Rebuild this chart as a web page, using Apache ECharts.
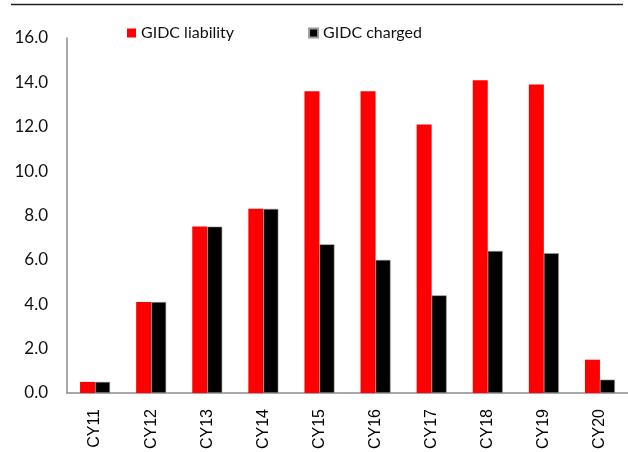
<!DOCTYPE html>
<html>
<head>
<meta charset="utf-8">
<script src="https://cdn.jsdelivr.net/npm/echarts@6/dist/echarts.min.js"></script>
<style>
  html, body { margin: 0; padding: 0; background: #fff; }
  #chart { width: 628px; height: 452px; }
</style>
</head>
<body>
<div id="chart"></div>
<script>
// GIDC liability vs. GIDC charged, by calendar year
const years = ['CY11', 'CY12', 'CY13', 'CY14', 'CY15', 'CY16', 'CY17', 'CY18', 'CY19', 'CY20'];
const gidcLiability = [0.5, 4.1, 7.5, 8.3, 13.6, 13.6, 12.1, 14.1, 13.9, 1.5];
const gidcCharged   = [0.5, 4.1, 7.5, 8.3, 6.7, 6.0, 4.4, 6.4, 6.3, 0.6];
const yTicks = [0, 2, 4, 6, 8, 10, 12, 14, 16];

const chart = echarts.init(document.getElementById('chart'), null, { renderer: 'canvas' });

chart.setOption({
  animation: false,
  backgroundColor: '#ffffff',
  graphic: [{
    type: 'line',
    shape: { x1: 11, y1: 4.5, x2: 623, y2: 4.5 },
    style: { stroke: '#222', lineWidth: 1.5 }
  }],
  legend: {
    left: 122,
    top: 20,
    itemWidth: 9,
    itemHeight: 9,
    itemGap: 74,
    icon: 'rect',
    textStyle: { fontFamily: 'Lato', fontSize: 16, color: '#111' },
    data: ['GIDC liability', 'GIDC charged']
  },
  grid: { left: 67, right: -7, top: 38, bottom: 56, containLabel: false },
  xAxis: {
    type: 'category',
    data: years,
    axisLine: { show: true, lineStyle: { color: '#8c8c8c', width: 1.5 } },
    axisTick: { show: false },
    axisLabel: {
      rotate: 90,
      margin: 16,
      fontFamily: 'Liberation Sans',
      fontSize: 16,
      color: '#000'
    }
  },
  yAxis: {
    type: 'value',
    min: yTicks[0],
    max: yTicks[yTicks.length - 1],
    interval: 2,
    axisLine: { show: true, lineStyle: { color: '#8c8c8c', width: 1.5 } },
    axisTick: { show: false },
    splitLine: { show: false },
    axisLabel: {
      margin: 19,
      fontFamily: 'Lato',
      fontSize: 17,
      color: '#111',
      formatter: v => v.toFixed(1)
    }
  },
  series: [
    {
      name: 'GIDC liability',
      type: 'bar',
      data: gidcLiability,
      barWidth: 15,
      barGap: '0%',
      itemStyle: { color: '#ff0000' }
    },
    {
      name: 'GIDC charged',
      type: 'bar',
      data: gidcCharged,
      barWidth: 15,
      barGap: '0%',
      itemStyle: { color: '#000000', borderColor: '#9a9a9a', borderWidth: 0.6 }
    }
  ]
});
</script>
</body>
</html>
